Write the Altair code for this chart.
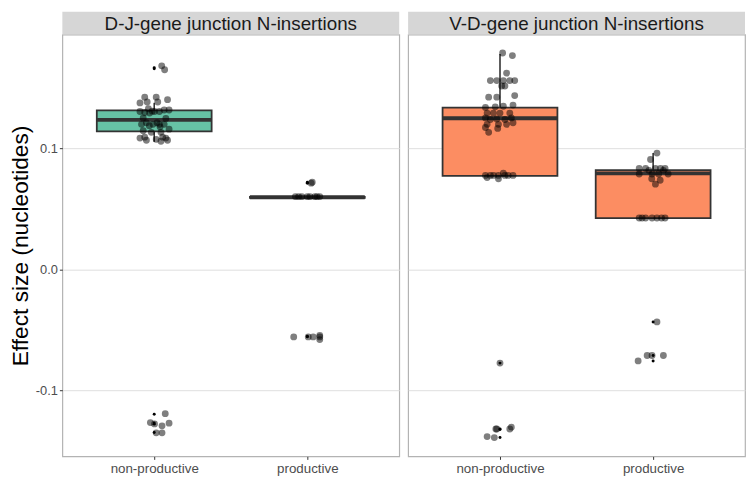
import altair as alt
import pandas as pd

PANELS = ["D-J-gene junction N-insertions", "V-D-gene junction N-insertions"]
FILLS = ["#66C2A5", "#FC8D62"]

# ---- box statistics ----
box_panel = [0, 0, 1, 1]
box_status = ["non-productive", "productive", "non-productive", "productive"]
box_q1 = [0.1143, 0.0592, 0.0775, 0.0425]
box_med = [0.1238, 0.0597, 0.1251, 0.0795]
box_q3 = [0.1317, 0.0601, 0.1339, 0.0822]
box_wlo = [0.1056, 0.0592, 0.0775, 0.0425]
box_whi = [0.1379, 0.0601, 0.1783, 0.0963]

# ---- boxplot outliers ----
out_panel = [0, 0, 0, 0, 0, 0, 0, 0, 0, 0, 1, 1, 1, 1, 1, 1, 1]
out_status = ["non-productive"] * 6 + ["productive"] * 4 + ["non-productive"] * 4 + ["productive"] * 3
out_value = [0.1670, 0.1660, -0.1198, -0.1270, -0.1280, -0.1350,
             0.0714, 0.0722, -0.0558, -0.0552,
             -0.0775, -0.1320, -0.1325, -0.1390,
             -0.0434, -0.0712, -0.0757]

# ---- jittered observations: value and horizontal jitter (category units) ----
dj_np_val = [0.1685, 0.1653, 0.1426, 0.1378, 0.1386, 0.1426, 0.1386, 0.1405,
             0.1307, 0.1299, 0.1294, 0.1307, 0.1307, 0.1320, 0.1320, 0.1254,
             0.1201, 0.1214, 0.1201, 0.1201, 0.1201, 0.1161, 0.1148, 0.1135,
             0.1135, 0.1087, 0.1069, 0.1095, 0.1077, 0.1061, 0.1087, 0.1069,
             0.1095, 0.1310, 0.1215, 0.1250, 0.1330, 0.1190, 0.1180,
             -0.1193, -0.1267, -0.1278, -0.1294, -0.1272, -0.1352, -0.1352]
dj_np_off = [0.049, 0.068, -0.062, -0.093, -0.046, 0.013, 0.023, 0.087,
             -0.093, -0.062, -0.030, 0.002, 0.034, 0.065, 0.097, -0.072,
             -0.083, -0.051, -0.008, 0.034, 0.065, 0.097, -0.072, -0.019,
             0.044, -0.093, -0.051, -0.062, 0.013, 0.044, 0.076, 0.087,
             0.055, -0.013, 0.019, 0.076, -0.038, -0.032, 0.038,
             0.072, -0.025, 0.002, 0.051, 0.097, 0.013, 0.051]

dj_p_val = [0.0603, 0.0603, 0.0603, 0.0603, 0.0603, 0.0603, 0.0603, 0.0603,
            0.0722, 0.0714,
            -0.0558, -0.0558, -0.0558, -0.0558, -0.0545, -0.0580]
dj_p_off = [-0.078, -0.036, 0.017, 0.049, 0.081, -0.057, 0.000, 0.063,
            0.032, 0.025,
            -0.089, 0.006, 0.038, 0.081, 0.081, 0.081]

vd_np_val = [0.1791, 0.1770, 0.1625, 0.1563, 0.1563, 0.1563, 0.1563, 0.1563,
             0.1518, 0.1518, 0.1426, 0.1426, 0.1439, 0.1341, 0.1346, 0.1351,
             0.1360, 0.1294, 0.1294, 0.1294, 0.1294, 0.1254, 0.1241, 0.1245,
             0.1241, 0.1254, 0.1201, 0.1201, 0.1201, 0.1214, 0.1175, 0.1167,
             0.1135, 0.0778, 0.0778, 0.0778, 0.0778, 0.0778, 0.0778, 0.0760,
             0.0796, 0.0751, 0.0778,
             -0.0775, -0.1320, -0.1320, -0.1305, -0.1320, -0.1383, -0.1391]
vd_np_off = [0.017, 0.081, 0.043, -0.063, -0.021, 0.022, 0.064, 0.096,
             0.011, 0.032, -0.074, -0.021, 0.096, -0.095, -0.031, 0.022,
             0.085, -0.084, -0.043, 0.000, 0.064, -0.095, -0.063, -0.021,
             0.032, 0.074, -0.084, -0.010, 0.043, 0.085, -0.095, -0.015,
             -0.074, -0.095, -0.063, -0.042, -0.010, 0.032, 0.085, -0.084,
             0.022, -0.010, 0.053,
             0.000, -0.021, 0.064, 0.074, -0.027, -0.084, -0.037]

vd_p_val = [0.0963, 0.0910, 0.0836, 0.0836, 0.0836, 0.0836, 0.0836, 0.0790,
            0.0790, 0.0790, 0.0790, 0.0820, 0.0820, 0.0706, 0.0738, 0.0751,
            0.0426, 0.0426, 0.0426, 0.0426, 0.0426, 0.0426, 0.0426,
            -0.0434, -0.0712, -0.0712, -0.0712, -0.0757]
vd_p_off = [0.025, -0.017, -0.091, -0.049, 0.015, 0.078, 0.048, -0.091,
            -0.007, 0.036, 0.098, -0.028, 0.067, 0.015, 0.046, -0.009,
            -0.091, -0.049, -0.007, 0.025, 0.078, -0.072, 0.055,
            0.025, -0.039, -0.007, 0.067, -0.098]

groups = [
    (0, "non-productive", dj_np_val, dj_np_off),
    (0, "productive", dj_p_val, dj_p_off),
    (1, "non-productive", vd_np_val, vd_np_off),
    (1, "productive", vd_p_val, vd_p_off),
]
rows = []
for p, s, vals, offs in groups:
    for v, o in zip(vals, offs):
        rows.append({"panel": PANELS[p], "status": s, "value": v, "jitter": o})
points = pd.DataFrame(rows)

boxes = pd.DataFrame({
    "panel": [PANELS[i] for i in box_panel], "status": box_status,
    "q1": box_q1, "med": box_med, "q3": box_q3, "wlo": box_wlo, "whi": box_whi,
})
outliers = pd.DataFrame({
    "panel": [PANELS[i] for i in out_panel], "status": out_status, "value": out_value,
})

W, H = 341, 427
Y_DOMAIN = [-0.1547, 0.1944]
XC = "datum.status == 'non-productive' ? 1 : 2"


def make_panel(i, first):
    name = PANELS[i]
    xs = alt.Scale(domain=[0.4, 2.6], nice=False, zero=False)
    ys = alt.Scale(domain=Y_DOMAIN, nice=False, zero=False)
    xaxis = alt.Axis(title=None, values=[1, 2],
                     labelExpr="datum.value == 1 ? 'non-productive' : 'productive'",
                     grid=False, domain=False, tickColor="#333333", tickSize=3,
                     labelColor="#4D4D4D", labelFontSize=13.5, labelPadding=2)
    yaxis = alt.Axis(title="Effect size (nucleotides)" if first else None,
                     values=[-0.1, 0, 0.1],
                     labelExpr="datum.value < 0 ? '-' + format(-datum.value, '.1f') : format(datum.value, '.1f')",
                     labels=first, ticks=first, grid=True, gridColor="#DEDEDE",
                     gridWidth=1, domain=False, tickColor="#333333", tickSize=3,
                     labelColor="#4D4D4D", labelFontSize=13, labelPadding=2,
                     titleFontSize=23, titleFontWeight="normal", titleColor="#000000",
                     titlePadding=3)

    dummy = pd.DataFrame({"a": [0]})
    strip = alt.Chart(dummy).mark_rect(color="#D6D6D6").encode(
        x=alt.value(0), x2=alt.value(W), y=alt.value(-23), y2=alt.value(0))
    strip_text = alt.Chart(dummy).mark_text(fontSize=19, color="#1A1A1A",
                                            baseline="middle", align="center").encode(
        x=alt.value(W / 2), y=alt.value(-11), text=alt.value(name))

    bx = alt.Chart(boxes).transform_filter(alt.datum.panel == name).transform_calculate(
        xc=XC).transform_calculate(xl="datum.xc - 0.375", xr="datum.xc + 0.375")
    whisk = bx.mark_rule(color="#333333", strokeWidth=1.6).encode(
        x=alt.X("xc:Q", scale=xs, axis=xaxis),
        y=alt.Y("wlo:Q", scale=ys, axis=yaxis), y2="whi:Q")
    rect = bx.mark_rect(fill=FILLS[i], stroke="#333333", strokeWidth=1.8).encode(
        x=alt.X("xl:Q", scale=xs, axis=xaxis), x2="xr:Q",
        y=alt.Y("q1:Q", scale=ys, axis=yaxis), y2="q3:Q")
    med = bx.mark_rule(color="#333333", strokeWidth=4).encode(
        x=alt.X("xl:Q", scale=xs, axis=xaxis), x2="xr:Q",
        y=alt.Y("med:Q", scale=ys, axis=yaxis))

    outl = alt.Chart(outliers).transform_filter(alt.datum.panel == name).transform_calculate(
        xc=XC).mark_circle(size=9, color="#000000", opacity=1).encode(
        x=alt.X("xc:Q", scale=xs, axis=xaxis),
        y=alt.Y("value:Q", scale=ys, axis=yaxis))

    pts = alt.Chart(points).transform_filter(alt.datum.panel == name).transform_calculate(
        xj="(" + XC + ") + datum.jitter").mark_circle(size=48, color="#000000", opacity=0.5).encode(
        x=alt.X("xj:Q", scale=xs, axis=xaxis),
        y=alt.Y("value:Q", scale=ys, axis=yaxis))

    return alt.layer(whisk, rect, med, outl, pts, strip, strip_text).properties(width=W, height=H)


chart = alt.hconcat(make_panel(0, True), make_panel(1, False), spacing=7).properties(
    padding={"left": 0, "top": 0, "right": 0, "bottom": 0}
).configure(font="Liberation Sans").configure_view(stroke="#B3B3B3", strokeWidth=1.2)

chart.save("out.html", embed_options={"renderer": "svg", "actions": False})
